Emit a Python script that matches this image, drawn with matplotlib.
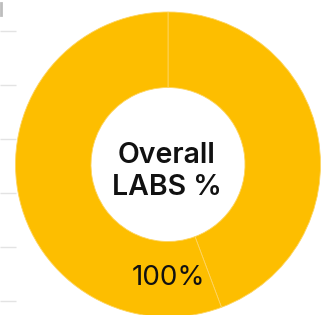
import matplotlib.pyplot as plt

# donut data (two slices, same colour)
slices = [44.3, 55.7]
slice_colors = ['#FDBE00', '#FDBE00']
center_label = 'Overall\nLABS %'
value_label = '100%'

W, H = 322, 315

fig = plt.figure(figsize=(W / 100, H / 100), dpi=100)
ax = fig.add_axes([0, 0, 1, 1])

# faint gridline stubs from the chart behind, on the left edge
for y in [30.5, 85, 138.5, 192.5, 246.5, 300.5]:
    ax.plot([0, 16], [H - y, H - y], color='#e3e3e3', lw=1, solid_capstyle='butt')
ax.plot([1, 1], [H - 3, H - 15], color='#bdbdbd', lw=2)

cx, cy, R = 168, H - 164.5, 152.5
ax.pie(slices, colors=slice_colors, startangle=90, counterclock=False,
       center=(cx, cy), radius=R, frame=True,
       wedgeprops=dict(width=R - 77, edgecolor='#FDD460', linewidth=0.6))
ax.set_xlim(0, W)
ax.set_ylim(0, H)
ax.set_aspect('equal')
ax.axis('off')

ax.text(166.5, H - 171.5, center_label, ha='center', va='center',
        fontsize=20.5, fontweight='semibold', family='Inter', linespacing=1.25,
        color='#111111')
ax.text(169, H - 278, value_label, ha='center', va='center',
        fontsize=20, fontweight='normal', family='Inter', color='#111111')

fig.savefig('out.png', dpi=100)
